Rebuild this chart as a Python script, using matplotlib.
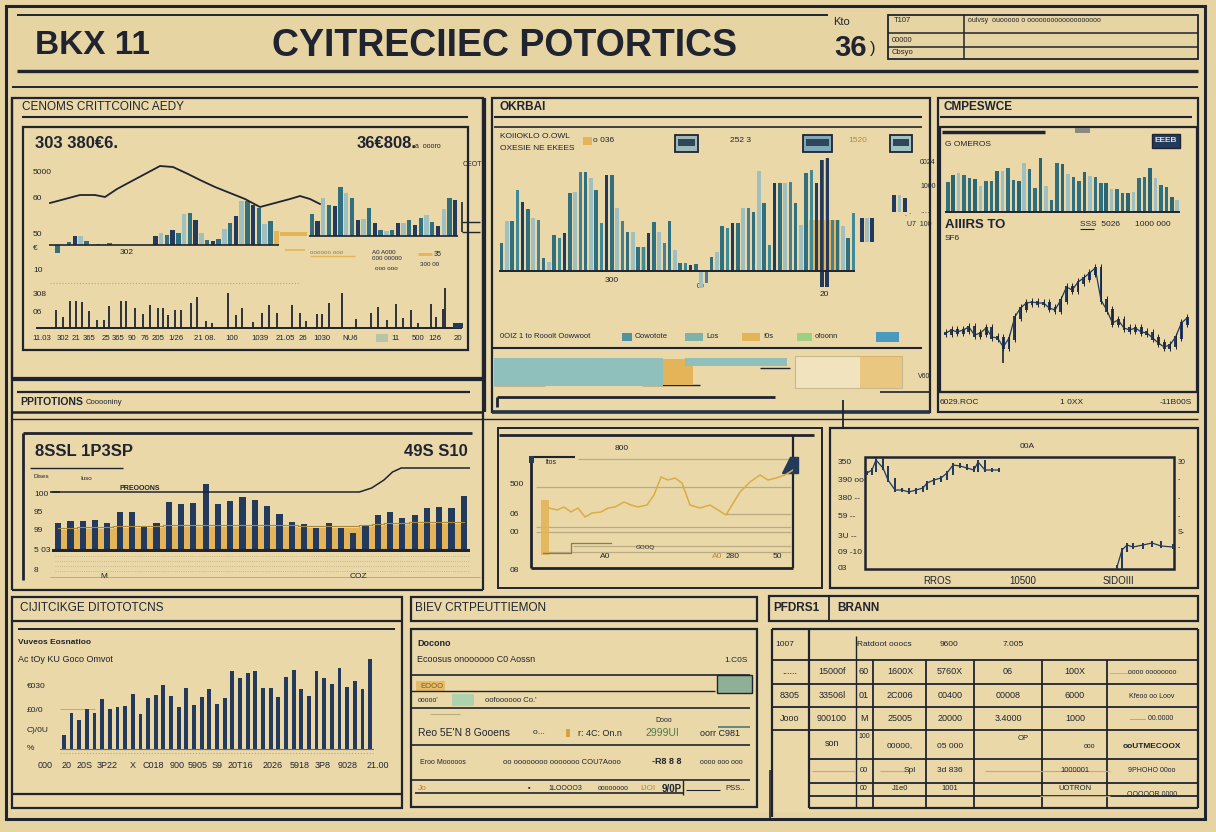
import numpy as np
import matplotlib
matplotlib.use("Agg")
import matplotlib.pyplot as plt
from matplotlib.patches import Rectangle, Polygon

plt.rcParams["font.family"] = ["Liberation Sans", "DejaVu Sans"]

# ---- couleurs ----
BG = "#e7d4a3"
PANEL = "#eddcaf"
INK = "#1f2430"
NAVY = "#233a5c"
TEAL = "#2f6f7e"
LIGHT = "#9fbfc0"
GOLD = "#e4b558"
STRIP = "#8fc0bb"
GRID = "#b9ab84"

# ---- données ----
# panneau 1 : barres haut, deux segments
p1_left = [0, -8, 0, 3, 9, 9, 4, 0, 1, 1, 2, 0, 0, 0, 0, 0, 0, 0, 9, 12,
           10, 15, 12, 31, 32, 25, 12, 5, 4, 6, 16, 22, 29, 44, 44, 40, 37, 21, 24, 14]
p1_right = [22, 15, 38, 31, 30, 49, 43, 38, 16, 17, 28, 13, 6, 5, 6, 13, 13, 16, 11,
            18, 21, 14, 10, 27, 38, 36]
p1_line_x = [1, 16, 31, 46, 56, 68, 81, 96, 111, 124, 139, 151, 166, 181, 196, 211,
             226, 241, 251, 261, 271]
p1_line_y = [42, 46, 50, 50, 48, 56, 63, 71, 79, 78, 71, 65, 58, 52, 46, 38, 42, 46,
             49, 46, 41]
p1_spike_x = [26, 33, 40, 46, 52, 59, 67, 74, 79, 91, 96, 105, 113, 120, 128, 133, 138,
              145, 151, 161, 167, 176, 182, 198, 206, 212, 223, 232, 239, 247, 262, 270,
              276, 287, 292, 299, 312, 326, 341, 348, 357, 366, 373, 381, 388, 401, 406,
              413, 415]
p1_spike_h = [18, 11, 27, 27, 26, 17, 8, 8, 22, 27, 27, 20, 14, 23, 20, 20, 13, 18, 18,
              25, 31, 7, 5, 35, 13, 20, 6, 15, 23, 15, 23, 15, 7, 14, 14, 25, 35, 9, 15,
              21, 8, 24, 10, 18, 5, 24, 11, 19, 40]
p1_ticks = ["11.03", "302", "21", "365", "25", "365", "90", "76", "205", "1/26", "21 08.",
            "100", "1039", "21.05", "26", "1030", "NU6", "11", "500", "126", "20"]

# panneau 2
p2_vals = [28, 50, 50, 81, 69, 62, 53, 51, 13, 9, 36, 33, 38, 78, 79, 99, 99, 93, 81, 48,
           96, 96, 63, 50, 39, 39, 24, 24, 38, 49, 39, 28, 50, 21, 8, 8, 6, 7, -17, -12,
           14, 19, 45, 43, 48, 48, 63, 63, 59, 100, 68, 26, 88, 88, 88, 89, 68, 46, 98, 101,
           88, 111, 113, 51, 51, 45, 33, 58]
p2_gold = [0] * 27 + [24] + [0] * 31 + [51, 51, 51, 51, 51, 51] + [0] * 3
p2_neg_idx = [61, 62]
p2_neg_val = [-16, -16]
p2_float_idx = [68.6, 69.6, 70.6, 74.8, 75.8, 76.8]
p2_float_lo = [29, 29, 29, 59, 59, 59]
p2_float_hi = [53, 53, 53, 76, 76, 73]
p2_strip = [169, 30, 102, 65, 42]

# panneau 3
p3_vals = [30, 37, 39, 37, 34, 33, 26, 31, 31, 41, 41, 44, 32, 31, 49, 43, 24, 54, 26, 12,
           49, 48, 38, 35, 31, 40, 36, 35, 29, 29, 23, 23, 19, 19, 20, 34, 35, 44, 34, 27,
           25, 15, 12]
p3_close = [37, 40, 38, 40, 43, 35, 37, 42, 33, 32, 23, 32, 53, 62, 67, 68, 67, 67, 62, 60,
            70, 83, 80, 88, 92, 97, 102, 70, 60, 47, 50, 42, 40, 42, 38, 37, 32, 27, 23, 25,
            33, 47, 52]

# panneau 4
p4_vals = [27, 29, 29, 30, 27, 38, 38, 23, 27, 48, 46, 47, 66, 46, 49, 53, 50, 44, 36, 28,
           26, 22, 27, 22, 17, 24, 35, 38, 32, 35, 42, 43, 42, 54]
p4_gold = [20, 20, 21, 21, 21, 22, 22, 22, 22, 23, 23, 23, 23, 23, 23, 23, 23, 23, 23, 23,
           22, 22, 22, 22, 22, 23, 24, 25, 25, 26, 26, 26, 26, 26]
p4_trend_x = [-0.5, 22, 24.5, 25.5, 26.5, 27.2, 27.9, 33.8]
p4_trend_y = [58, 58, 58, 62, 70, 78, 82, 82]

# panneau 5
p5_x = [18, 26, 33, 40, 47, 54, 61, 70, 77, 84, 93, 100, 107, 116, 123, 130, 137, 144,
        151, 159, 169, 179, 187, 195, 201, 209, 219, 229, 237, 245, 254, 262]
p5_y = [60, 58, 61, 56, 60, 51, 55, 56, 60, 61, 66, 63, 61, 63, 73, 91, 88, 90, 85, 63,
        60, 63, 58, 53, 63, 76, 86, 93, 88, 90, 93, 98]
p5_bar = 55

# panneau 6
p6_x1 = [2, 7, 11, 18, 23, 30, 37, 44, 51, 58, 62, 69, 76, 82, 88, 95, 102, 109, 113, 120,
         127, 134]
p6_y1 = [96, 99, 109, 101, 89, 79, 79, 77, 79, 81, 86, 89, 91, 96, 104, 103, 101, 99, 107,
         99, 99, 99]
p6_x2 = [252, 257, 262, 268, 278, 287, 296, 308]
p6_y2 = [2, 19, 24, 22, 24, 26, 23, 22]

# panneau 7
p7_vals = [14, 36, 29, 40, 36, 50, 40, 42, 43, 55, 35, 51, 54, 64, 53, 42, 61, 44, 52, 60,
           45, 51, 78, 71, 76, 78, 61, 61, 52, 72, 79, 60, 53, 78, 71, 65, 81, 62, 68, 60, 90]
p7_ticks = ["000", "20", "20S", "3P22", "X", "C018", "900", "5905", "S9", "20T16", "2026",
            "5918", "3P8", "9028", "21.00"]

# panneau 9 (tableau)
t9_rows = [
    ["......", "15000f", "60", "1600X", "5760X", "06", "100X"],
    ["8305", "33506l", "01", "2C006", "00400", "00008", "6000"],
    ["Jooo", "900100", "M", "25005", "20000", "3.4000", "1000"],
]
t9_right = ["oooo oooooooo", "Kfeoo oo Loov", "........ 00.0000", "ooUTMECOOX",
            "9PHOHO 00oo", "OOOOOR 0000"]

W, H = 1216, 832
fig = plt.figure(figsize=(W / 100, H / 100), dpi=100)
fig.patch.set_facecolor(BG)
bg = fig.add_axes([0, 0, 1, 1])
bg.set_xlim(0, W)
bg.set_ylim(H, 0)
bg.axis("off")


def box(x0, y0, x1, y1, lw=1.6, fc="none", ec=INK, z=1, alpha=1):
    bg.add_patch(Rectangle((x0, y0), x1 - x0, y1 - y0, lw=lw, fc=fc, ec=ec, zorder=z, alpha=alpha))


def hl(y, x0, x1, lw=1.5, c=INK, ls="-"):
    bg.plot([x0, x1], [y, y], color=c, lw=lw, ls=ls, solid_capstyle="butt")


def vl(x, y0, y1, lw=1.5, c=INK):
    bg.plot([x, x], [y0, y1], color=c, lw=lw, solid_capstyle="butt")


def t(x, y, s, size=6, weight="normal", ha="left", color=INK, alpha=1):
    bg.text(x, y, s, fontsize=size, fontweight=weight, ha=ha, va="center", color=color, alpha=alpha)


def pax(x0, y0, x1, y1, xlim, ylim):
    ax = fig.add_axes([x0 / W, 1 - y1 / H, (x1 - x0) / W, (y1 - y0) / H])
    ax.set_xlim(*xlim)
    ax.set_ylim(*ylim)
    ax.axis("off")
    ax.patch.set_alpha(0)
    return ax


cyc = [NAVY, TEAL, LIGHT, TEAL, NAVY, LIGHT, TEAL]

# ================= cadre général + en-tête =================
box(6, 6, 1205, 819, lw=2.2)
box(12, 98, 1198, 812, lw=0, fc=PANEL, z=0, alpha=0.55)
hl(15, 17, 828, lw=1.4)
hl(71, 17, 1198, lw=2.4)
hl(87, 12, 1198, lw=1.4)
box(888, 15, 1198, 59, lw=1.3)
hl(33, 888, 1198, lw=1.1)
hl(47, 888, 1198, lw=1.1)
vl(964, 15, 59, lw=1.1)
t(35, 46, "BKX 11", size=24, weight="bold")
t(505, 46, "CYITRECIIEC POTORTICS", size=27, weight="bold", ha="center")
t(833, 22, "Kto", size=8)
t(834, 48, "36", size=21, weight="bold")
t(870, 48, ")", size=12)
t(894, 21, "T107", size=5.5)
t(892, 40, "00000", size=5.5)
t(892, 53, "Cbsyo", size=5.5)
t(968, 21, "oulvsy  ouooooo o ooooooooooooooooooo", size=5)

# ================= panneau 1 =================
box(12, 98, 483, 378, lw=1.6)
t(22, 107, "CENOMS CRITTCOINC AEDY", size=8.5)
hl(117, 22, 468, lw=1.5)
box(23, 127, 468, 350, lw=1.6)
t(35, 143, "303 380€6.", size=12, weight="bold")
t(357, 143, "36€808.", size=12, weight="bold")
t(415, 147, "a  oooro", size=5)
t(463, 165, "CEOT", size=5)
for yy, lab in zip([173, 199, 234, 249, 270, 294, 313], ["5000", "60", "50", "€", "10", "308", "06"]):
    t(33, yy, lab, size=6)
t(120, 253, "302", size=6)

a = pax(49, 150, 279, 255, (-0.5, 39.5), (-10, 95))
a.bar(range(len(p1_left)), p1_left, width=0.75, color=[cyc[i % 7] for i in range(len(p1_left))])
a.bar(len(p1_left) - 1, p1_left[-1], width=0.9, color=GOLD)
a.axhline(0, color=INK, lw=1.2)
a.bar(42, 4, bottom=9, width=4.6, color=GOLD, clip_on=False)

b = pax(309, 150, 458, 255, (-0.5, 25.5), (-19, 86))
b.bar(range(len(p1_right)), p1_right, width=0.75, color=[cyc[(i + 3) % 7] for i in range(len(p1_right))])
b.axhline(0, color=INK, lw=1.2)
vl(462, 202, 232, lw=1.2)
hl(222, 462, 480, lw=1.0)
hl(232, 462, 480, lw=1.0)

c = pax(49, 150, 321, 255, (0, 272), (-10, 95))
c.plot(p1_line_x, p1_line_y, color=INK, lw=1.3)

hl(250, 285, 305, lw=1.2, c=GOLD)
t(310, 252, "oooooo ooo", size=4.5, color="#8a7a50")
hl(256, 310, 355, lw=1.0, c=GOLD)
t(372, 252, "A0 A000", size=4.5)
t(372, 259, "000 00000", size=4.5)
t(375, 268, "ooo ooo", size=4.5)
hl(254, 418, 432, lw=2.0, c=GOLD)
t(434, 254, "35", size=5)
t(420, 264, "300 00", size=4.5)
hl(283, 50, 300, lw=0.8, c=GRID, ls=":")

d = pax(30, 283, 465, 330, (0, 435), (-2, 45))
d.vlines(p1_spike_x, 0, p1_spike_h, color=INK, lw=1.3)
hl(328, 36, 462, lw=1.4)
box(453, 323, 463, 328, lw=0, fc=NAVY, z=3)
for xx, lab in zip([42, 63, 76, 89, 106, 118, 132, 145, 158, 176, 205, 232, 260, 285, 303,
                    322, 350, 395, 418, 435, 458], p1_ticks):
    t(xx, 338, lab, size=5.6, ha="center")
box(376, 334, 388, 342, lw=0, fc="#b8c4a8", z=3)

# ================= panneau 2 =================
vl(485, 98, 412, lw=1.6)
box(492, 98, 930, 412, lw=1.6)
t(499, 107, "OKRBAI", size=8.5, weight="bold")
hl(117, 494, 922, lw=1.5)
hl(127, 494, 922, lw=1.2)
t(500, 136, "KOIIOKLO O.OWL", size=6)
t(500, 148, "OXESIE NE EKEES", size=6)
box(583, 137, 592, 145, lw=0, fc=GOLD, z=2)
t(593, 141, "o 036", size=6)
for (x0, x1, fc) in [(675, 698, "#9fb9b8"), (803, 832, "#7fa9b8"), (890, 912, "#9fc3c3")]:
    box(x0, 135, x1, 152, lw=1.3, fc=fc, z=2)
    box(x0 + 3, 139, x1 - 3, 146, lw=0, fc="#30465a", z=3)
t(730, 141, "252 3", size=6)
t(848, 141, "1520", size=6, color="#b8893a")
t(920, 162, "0024", size=5)
t(920, 187, "1000", size=5)
t(905, 214, ". ·", size=5)
t(907, 224, "U7  100", size=5)
t(920, 214, "·····", size=5)

e = pax(499, 150, 856, 292, (-0.5, 67.5), (-21, 121))
pal2 = [TEAL, LIGHT, TEAL, "#3e8a98", NAVY, TEAL, LIGHT, "#487f95"]
e.bar(range(len(p2_gold)), p2_gold, width=1.0, color=GOLD)
e.bar(range(len(p2_vals)), p2_vals, width=0.7, color=[pal2[i % 8] for i in range(len(p2_vals))])
e.bar(p2_neg_idx, p2_neg_val, width=0.7, color=NAVY)
e.bar([61, 62], [p2_vals[61], p2_vals[62]], width=0.6, color=NAVY)
e.bar(p2_float_idx, np.array(p2_float_hi) - np.array(p2_float_lo), bottom=p2_float_lo,
      width=0.7, color=[NAVY, LIGHT, NAVY, NAVY, LIGHT, NAVY], clip_on=False)
e.axhline(0, xmax=0.995, color=INK, lw=1.4)
t(605, 281, "300", size=6)
t(697, 286, "00", size=5)
t(820, 294, "20", size=6)

# légende
t(500, 337, "0OIZ 1 to Rooolt Oowwoot", size=5.5)
for (x0, x1, fc, lab) in [(622, 632, "#4f93a0", "Oowotote"), (685, 703, "#7fb3a8", "Los"),
                          (742, 760, GOLD, "I0s"), (797, 812, "#9fcf80", "ofoonn")]:
    box(x0, 333, x1, 341, lw=0, fc=fc, z=2)
    t(x1 + 3, 337, lab, size=5.5)
box(876, 332, 899, 342, lw=0, fc="#4a9ac0", z=2)
hl(348, 492, 922, lw=1.5)

# bandeau horizontal
s = pax(494, 355, 904, 389, (0, 410), (0, 1))
left = np.concatenate([[0], np.cumsum(p2_strip)[:-1]])
s.barh(0.5, p2_strip[0], left=left[0], height=0.82, color=STRIP)
s.barh(0.5, p2_strip[1], left=left[1], height=0.78, color=GOLD)
s.barh(0.79, p2_strip[2], left=left[2] - 8, height=0.25, color=STRIP)
s.barh(0.5, p2_strip[3] + p2_strip[4], left=left[3], height=0.95, color="#f1e3bd", ec="#c9b88c", lw=0.8)
s.barh(0.5, p2_strip[4], left=left[4], height=0.95, color=GOLD, alpha=0.6)
t(684, 377, "Gl", size=7, color="#6b5020")
t(870, 381, "Ioooo", size=6, color="#5a4a2a")
t(918, 376, "V60", size=5)
hl(385, 494, 545, lw=1.0)
hl(385, 642, 700, lw=1.0)
hl(368, 760, 790, lw=1.0)
hl(397, 497, 775, lw=2.0)
vl(497, 397, 407, lw=2.0)
hl(392, 880, 930, lw=1.2)
hl(412, 492, 930, lw=2.6, c="#23354a")
vl(843, 400, 428, lw=1.3)
hl(419, 12, 1198, lw=1.0)

# ================= panneau 3 =================
box(938, 98, 1198, 412, lw=1.6)
t(943, 107, "CMPESWCE", size=8.5, weight="bold")
hl(117, 940, 1192, lw=1.5)
box(940, 127, 1197, 392, lw=1.6)
hl(132, 942, 1045, lw=2.5)
box(1075, 128, 1090, 133, lw=0, fc="#8a8a80", z=2)
t(945, 145, "G OMEROS", size=6)
box(1152, 134, 1180, 148, lw=1, fc=NAVY, z=2)
t(1166, 141, "EEEB", size=6, weight="bold", color="#d9e2e0", ha="center")

f = pax(945, 150, 1180, 214, (-0.5, 42.5), (-2, 62))
f.bar(range(len(p3_vals)), p3_vals, width=0.65, color=[[TEAL, "#2b6472", LIGHT, TEAL][i % 4] for i in range(len(p3_vals))])
f.axhline(0, color=INK, lw=1.4)
t(945, 225, "AIIIRS TO", size=9.5, weight="bold")
t(945, 239, "SF6", size=6)
t(1080, 225, "SSS  5026", size=6)
hl(229, 1080, 1094, lw=0.8)
t(1135, 225, "1000 000", size=6)

g = pax(943, 260, 1190, 372, (-0.5, 42.5), (-2, 110))
g.plot(range(len(p3_close)), p3_close, color=NAVY, lw=0.9)
prev = np.array([p3_close[0]] + p3_close[:-1])
cur = np.array(p3_close)
g.bar(range(len(p3_close)), np.abs(cur - prev) + 3, bottom=np.minimum(cur, prev) - 1.5,
      width=0.5, color=NAVY)
g.vlines(range(len(p3_close)), np.minimum(cur, prev) - 4, np.maximum(cur, prev) + 4, color=INK, lw=0.7)
g.vlines([10], 7, 25, color=INK, lw=1.2)
hl(392, 940, 1197, lw=1.5)
t(940, 402, "6029.ROC", size=6)
t(1060, 402, "1 0XX", size=6)
t(1192, 402, "-11B00S", size=6, ha="right")

# ================= panneau 4 =================
hl(380, 12, 483, lw=1.6)
hl(392, 17, 470, lw=1.6)
t(20, 402, "PPITOTIONS", size=7.5, weight="bold")
t(86, 402, "Cooooniny", size=5.5)
hl(412, 12, 483, lw=1.8)
vl(12, 98, 590, lw=1.6)
vl(483, 98, 590, lw=1.6)
hl(590, 12, 483, lw=1.6)
hl(433, 23, 472, lw=2.0)
vl(23, 433, 580, lw=2.0)
t(35, 451, "8SSL 1P3SP", size=12, weight="bold")
t(468, 451, "49S S10", size=12, weight="bold", ha="right")
hl(468, 30, 123, lw=1.0)
t(33, 477, "Dises", size=4.5)
t(80, 478, "Iuso", size=4.5)
t(120, 488, "PREOOONS", size=5, weight="bold")
for yy, lab in zip([494, 513, 531, 550, 570], ["100", "95", "99", "5 03", "8"]):
    t(34, yy, lab, size=6)
hl(492, 50, 60, lw=1.2)

k = pax(52, 460, 470, 552, (-0.5, 33.5), (-2, 90))
xs = np.arange(len(p4_gold))
k.fill_between(xs, 0, p4_gold, step="mid", color=GOLD, lw=0)
k.plot(xs, np.array(p4_gold) + 2, color="#a8883a", lw=0.8, drawstyle="steps-mid")
k.bar(range(len(p4_vals)), p4_vals, width=0.5, color=NAVY)
k.plot(p4_trend_x, p4_trend_y, color=INK, lw=1.1)
k.axhline(0, color=INK, lw=2.2)
for yy in [556, 561, 566, 571]:
    hl(yy, 55, 470, lw=0.6, c=GRID, ls=":")
hl(577, 50, 480, lw=0.7, c=GRID)
t(100, 576, "M", size=6)
t(350, 576, "COZ", size=6)

# ================= panneau 5 =================
box(498, 428, 822, 588, lw=1.4)
hl(435, 499, 814, lw=2.0)
vl(531, 460, 568, lw=2.0)
hl(568, 531, 793, lw=2.0)
vl(793, 435, 568, lw=1.6)
for (yy, x0) in [(459, 578), (487, 536), (514, 726), (527, 536), (532, 536), (546, 573), (552, 541)]:
    hl(yy, x0, 791, lw=0.9, c=GRID)
hl(457, 531, 575, lw=1.5)
box(529, 456, 534, 463, lw=0, fc=NAVY, z=3)
t(545, 463, "ltos", size=5)
t(615, 449, "800", size=6)
for yy, lab in zip([485, 515, 532, 570], ["500", "06", "00", "08"]):
    t(510, yy, lab, size=6)
bg.add_patch(Polygon([[782, 473], [798, 473], [798, 457], [790, 457]], closed=True, fc=NAVY, ec=NAVY, zorder=3))
m = pax(531, 435, 793, 568, (0, 262), (0, 133))
m.bar(13.5, p5_bar, bottom=13, width=8, color=GOLD, alpha=0.9)
m.plot(p5_x, p5_y, color="#d9ad45", lw=1.1)
m.plot([12, 40, 40, 80], [15, 15, 25, 25], color="#8a7a50", lw=0.9)
t(600, 557, "A0", size=6)
t(712, 557, "A0", size=6, color="#b88a30")
t(726, 557, "280", size=6)
t(773, 557, "50", size=6)
t(636, 548, "GOOQ", size=4.5)

# ================= panneau 6 =================
box(830, 428, 1198, 588, lw=1.6)
box(865, 457, 1174, 569, lw=1.8)
t(1020, 447, "00A", size=6)
for yy, lab in zip([463, 481, 499, 517, 536, 553, 568],
                   ["350", "390 oo", "380 --", "59 --", "3U --", "09 -10", "03"]):
    t(838, yy, lab, size=6)
for yy, lab in zip([463, 480, 499, 517, 532, 548], ["30", "-", "-", "-", "S-", "-"]):
    t(1178, yy, lab, size=5)
n = pax(865, 457, 1174, 569, (0, 309), (0, 112))
for xs6, ys6 in [(p6_x1, p6_y1), (p6_x2, p6_y2)]:
    yy6 = np.array(ys6)
    pv = np.concatenate([[yy6[0]], yy6[:-1]])
    n.plot(xs6, yy6, color=NAVY, lw=0.9)
    n.bar(xs6, np.abs(yy6 - pv) + 4, bottom=np.minimum(yy6, pv) - 2, width=2.2, color=NAVY)
t(937, 581, "RROS", size=7, ha="center")
t(1023, 581, "10500", size=7, ha="center")
t(1118, 581, "SIDOIII", size=7, ha="center")

# ================= panneau 7 =================
box(12, 597, 402, 808, lw=1.6)
hl(621, 12, 402, lw=1.6)
hl(629, 18, 395, lw=1.4)
hl(794, 12, 402, lw=1.6)
t(20, 608, "CIJITCIKGE DITOTOTCNS", size=8.5)
t(18, 642, "Vuveos Eosnatioo", size=6, weight="bold")
t(18, 660, "Ac tOy KU Goco Omvot", size=6.5)
for yy, lab in zip([687, 710, 730, 748], ["€030", "£0/0", "C)/0U", "%"]):
    t(27, yy, lab, size=6)
hl(709, 60, 95, lw=0.7, c=GRID)
p = pax(60, 650, 374, 751, (-0.5, 40.5), (-2, 99))
p.bar(range(len(p7_vals)), p7_vals, width=0.5, color=NAVY)
p.axhline(0, color="#6a6a6a", lw=0.8)
hl(753, 60, 375, lw=0.8, c=GRID, ls=":")
for xx, lab in zip([45, 67, 85, 107, 133, 153, 177, 198, 217, 240, 273, 300, 323, 348, 378], p7_ticks):
    t(xx, 765, lab, size=6.5, ha="center")

# ================= panneau 8 =================
box(411, 597, 757, 621, lw=1.6)
box(411, 629, 757, 807, lw=1.6)
t(415, 608, "BIEV CRTPEUTTIEMON", size=8.5)
t(417, 644, "Docono", size=6.5, weight="bold")
t(417, 660, "Ecoosus onoooooo C0 Aossn", size=6.5)
t(748, 660, "1.C0S", size=6, ha="right")
hl(675, 411, 750, lw=1.2)
box(717, 675, 752, 693, lw=1, fc="#8fb096", z=2)
box(416, 681, 445, 691, lw=0, fc=GOLD, z=2, alpha=0.8)
t(420, 686, "EOOO", size=5.5, color="#7a5a20")
hl(691, 411, 715, lw=1.0)
t(418, 700, "ooooo'", size=5)
bg.add_patch(Rectangle((452, 694), 22, 12, fc="#9fd0b0", ec="none", alpha=0.8, zorder=2))
t(485, 700, "oofoooooo Co.'", size=5.5)
hl(708, 411, 750, lw=1.2)
hl(714, 430, 460, lw=0.8, c=GRID)
t(655, 720, "Dooo", size=5)
t(418, 733, "Reo 5E'N 8 Gooens", size=7.5)
t(533, 733, "o...  ", size=6)
box(566, 729, 570, 737, lw=0, fc="#d9a040", z=2)
t(578, 733, "r: 4C: On.n", size=6.5)
t(645, 733, "2999UI", size=7.5, color="#4f7a4a")
t(700, 733, "oorr C981", size=6.5)
hl(727, 718, 750, lw=1.2, c="#4a7a7a")
hl(745, 411, 750, lw=1.2)
t(420, 763, "Eroo Mooooos", size=5)
t(503, 763, "oo oooooooo ooooooo COU7Aooo", size=5.5)
t(652, 761, "-R8 8 8", size=6.5, weight="bold")
t(700, 763, "oooo ooo ooo", size=5)
hl(780, 411, 750, lw=1.2)
t(418, 788, "Jo", size=6, color="#c07a30")
t(528, 788, "▪", size=5)
t(548, 788, "1LOOOO3", size=5)
t(598, 788, "oooooooo", size=5)
t(640, 789, "IJOI", size=6, color="#c08a30")
t(662, 789, "9/0P", size=7, weight="bold")
vl(683, 780, 795, lw=1.0)
hl(790, 686, 720, lw=0.8)
t(725, 788, "PSS..", size=5.5)
hl(793, 415, 683, lw=1.2)

# ================= panneau 9 (tableau) =================
vl(770, 770, 819, lw=1.2)
box(769, 596, 1198, 621, lw=1.6)
vl(829, 596, 621, lw=1.3)
t(773, 608, "PFDRS1", size=8.5, weight="bold")
t(837, 608, "BRANN", size=8.5, weight="bold")
vl(772, 629, 817, lw=1.6)
cols = [809, 856, 873, 926, 974, 1042, 1107, 1198]
rows = [629, 660, 684, 707, 730, 759, 783, 796, 808]
for i, yy in enumerate(rows):
    hl(yy, 772 if i < 5 else 809, 1198, lw=1.6 if i in (0, 8) else 1.3)
vl(809, 629, 808, lw=1.6)
vl(856, 636, 808, lw=1.0)
for xx in cols[2:-1]:
    vl(xx, 660, 808, lw=1.3)
vl(1198, 629, 808, lw=1.6)
t(785, 645, "1007", size=6, ha="center")
t(857, 645, "Ratdoot ooocs", size=6)
t(940, 645, "9600", size=6)
t(1003, 645, "7.005", size=6)
centers = [790, 832, 864, 900, 950, 1008, 1075]
for r, row in enumerate(t9_rows):
    yy = (rows[r + 1] + rows[r + 2]) / 2
    for xx, lab in zip(centers, row):
        t(xx, yy, lab, size=6.5, ha="center")
t(832, 744, "son", size=6.5, ha="center")
t(864, 737, "100", size=5, ha="center")
t(900, 746, "00000,", size=6, ha="center")
t(950, 746, "05 000", size=6, ha="center")
t(1023, 739, "OP", size=5.5, ha="center")
t(1090, 746, "ooo", size=5, ha="center")
t(864, 771, "00", size=5.5, ha="center")
t(910, 770, "Spl", size=6, ha="center")
t(950, 770, "3d 836", size=6, ha="center")
t(1075, 771, "1000001", size=5.5, ha="center")
t(864, 789, "00", size=5, ha="center")
t(900, 789, "J1e0", size=5.5, ha="center")
t(950, 789, "1001", size=5.5, ha="center")
t(1075, 789, "UOTRON", size=5.5, ha="center")
for yy, lab in zip([673, 696, 719, 746, 771, 794], t9_right):
    t(1152, yy, lab, size=5 if yy not in (746,) else 6, ha="center", weight="bold" if yy == 746 else "normal")
hl(673, 1109, 1130, lw=0.6, c=GRID)
hl(771, 812, 855, lw=0.8, c=GRID)
hl(771, 880, 905, lw=0.8, c=GRID)
hl(771, 985, 1040, lw=0.8, c=GRID)
hl(771, 1040, 1110, lw=0.8, c=GRID)
hl(796, 1040, 1110, lw=0.8, c=GRID)

fig.savefig("out.png", dpi=100, facecolor=BG)
